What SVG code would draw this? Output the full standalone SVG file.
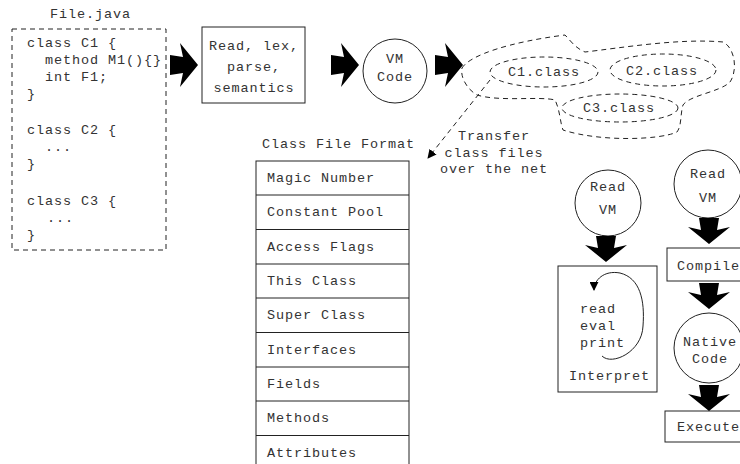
<svg xmlns="http://www.w3.org/2000/svg" width="740" height="464" viewBox="0 0 740 464">
<style>
text{font-family:"Liberation Mono","Courier New",monospace;font-size:13.5px;letter-spacing:0.9px;fill:#333}
.c{text-anchor:middle}
.s{fill:none;stroke:#222;stroke-width:1}
.d{fill:none;stroke:#222;stroke-width:1;stroke-dasharray:5,4}
.fat{fill:#000}
</style>
<defs>
<path id="fr" d="M0,-10 L13,-8 L10,-22 L28,0 L10,22 L13,8 L0,10 Z"/>
<path id="fd" d="M-10,0 L-8,12 L-21,9 L0,26 L21,9 L8,12 L10,0 Z"/>
<marker id="ah" viewBox="0 0 10 10" refX="9" refY="5" markerWidth="9" markerHeight="9" markerUnits="userSpaceOnUse" orient="auto">
<path d="M0,0 L10,5 L0,10 Z" fill="#000"/>
</marker>
</defs>
<g id="source">
<text x="50" y="18">File.java</text>
<rect class="d" x="12" y="29" width="154" height="221"/>
<text x="27" y="47">class C1 {</text>
<text x="45" y="64">method M1(){}</text>
<text x="45" y="81">int F1;</text>
<text x="27" y="98">}</text>
<text x="27" y="134">class C2 {</text>
<text x="45" y="151">...</text>
<text x="27" y="168">}</text>
<text x="27" y="205">class C3 {</text>
<text x="47" y="222">...</text>
<text x="27" y="239">}</text>
</g>
<g id="compiler">
<rect class="s" x="202" y="27" width="103" height="76"/>
<text class="c" x="254" y="50">Read, lex,</text>
<text class="c" x="254" y="71">parse,</text>
<text class="c" x="254" y="92">semantics</text>
</g>
<g id="vmcode">
<circle class="s" cx="395" cy="71" r="32"/>
<text class="c" x="395" y="63">VM</text>
<text class="c" x="395" y="81">Code</text>
</g>
<g id="classfiles">
<path class="d" d="M462,68 C470,55 510,42 565,35 C570,40 575,48 585,52 C620,48 680,38 723,42 C735,48 738,70 730,82 C720,92 690,95 683,105 C680,115 682,125 677,132 C660,140 600,142 563,130 C560,122 560,110 555,100 C540,96 500,102 477,95 C468,90 460,78 462,68 Z"/>
<ellipse class="d" cx="544" cy="72" rx="54" ry="15"/>
<text class="c" x="544" y="76">C1.class</text>
<ellipse class="d" cx="663" cy="70" rx="53" ry="16"/>
<text class="c" x="662" y="75">C2.class</text>
<ellipse class="d" cx="620" cy="108" rx="58" ry="14"/>
<text class="c" x="619" y="112">C3.class</text>
</g>
<g id="transfer-label">
<text class="c" x="494" y="140">Transfer</text>
<text class="c" x="494" y="157">class files</text>
<text class="c" x="494" y="173">over the net</text>
</g>
<g id="classformat">
<text x="262" y="148">Class File Format</text>
<rect class="s" x="256" y="161" width="153" height="310"/>
<path class="s" d="M256,195H409M256,229.5H409M256,264H409M256,298H409M256,332.5H409M256,367H409M256,401H409M256,435.5H409"/>
<text x="267" y="182">Magic Number</text>
<text x="267" y="216">Constant Pool</text>
<text x="267" y="251">Access Flags</text>
<text x="267" y="285">This Class</text>
<text x="267" y="319">Super Class</text>
<text x="267" y="354">Interfaces</text>
<text x="267" y="388">Fields</text>
<text x="267" y="422">Methods</text>
<text x="267" y="457">Attributes</text>
</g>
<g id="readvm1">
<circle class="s" cx="608" cy="203" r="33"/>
<text class="c" x="608" y="191">Read</text>
<text class="c" x="608" y="214">VM</text>
</g>
<g id="interpret">
<rect class="s" x="558" y="266" width="99" height="126"/>
<text x="580" y="313">read</text>
<text x="580" y="330">eval</text>
<text x="580" y="347">print</text>
<text x="569" y="380">Interpret</text>
<path class="s" d="M602,356 C612,366 642,352 643,326 C645,300 640,278 620,273 C604,270 594,280 594,290" marker-end="url(#ah)"/>
</g>
<g id="readvm2">
<circle class="s" cx="708" cy="184" r="34"/>
<text class="c" x="708" y="178">Read</text>
<text class="c" x="708" y="202">VM</text>
</g>
<g id="compile">
<rect class="s" x="667" y="248" width="90" height="33"/>
<text x="677" y="270">Compile</text>
</g>
<g id="native">
<circle class="s" cx="709" cy="348" r="35"/>
<text class="c" x="710" y="346">Native</text>
<text class="c" x="710" y="363">Code</text>
</g>
<g id="execute">
<rect class="s" x="665" y="411" width="90" height="31"/>
<text x="677" y="431">Execute</text>
</g>
<g id="connectors">
<use class="fat" href="#fr" x="170" y="65"/>
<use class="fat" href="#fr" x="331" y="65"/>
<use class="fat" href="#fr" x="435" y="65"/>
<use class="fat" href="#fd" x="606" y="236"/>
<use class="fat" href="#fd" x="709" y="218"/>
<use class="fat" href="#fd" x="709" y="283"/>
<use class="fat" href="#fd" x="709" y="385"/>
<path class="d" d="M490,80 L428,158" marker-end="url(#ah)"/>
</g>
</svg>
